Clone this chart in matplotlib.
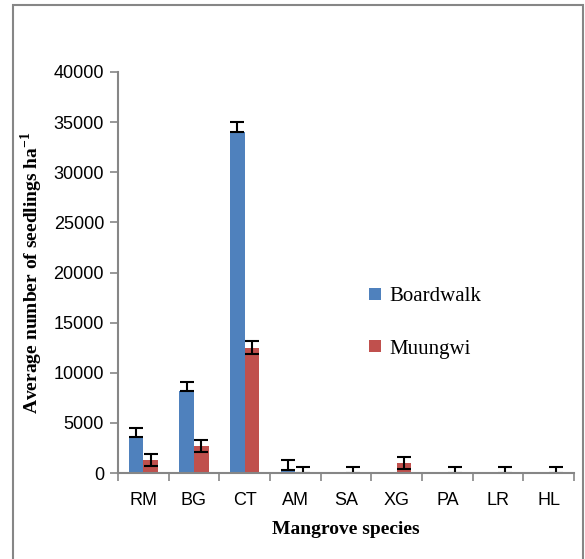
import numpy as np
import matplotlib.pyplot as plt
from matplotlib.patches import Rectangle

# Dados
especies = ['RM', 'BG', 'CT', 'AM', 'SA', 'XG', 'PA', 'LR', 'HL']
boardwalk = [3550, 8200, 34000, 350, 0, 0, 0, 0, 0]
boardwalk_err = [900, 900, 1000, 900, 0, 0, 0, 0, 0]
muungwi = [1300, 2700, 12500, 0, 0, 1000, 0, 0, 0]
muungwi_err = [600, 600, 650, 650, 650, 600, 650, 600, 600]

azul = '#4F81BD'
vermelho = '#C0504D'
cinza = '#868686'

plt.rcParams['mathtext.fontset'] = 'custom'
plt.rcParams['mathtext.bf'] = 'Liberation Serif:bold'
plt.rcParams['mathtext.rm'] = 'Liberation Serif:bold'
plt.rcParams['axes.unicode_minus'] = False

fig = plt.figure(figsize=(5.85, 5.59), dpi=100)
ax = fig.add_axes([0.2017, 0.1538, 0.7795, 0.7174])

x = np.arange(len(especies))
w = 0.29

# Boardwalk: barra de erro so para cima (so onde existe erro)
bw = np.array(boardwalk)
bw_err = np.array(boardwalk_err)
ax.bar(x - w / 2, bw, w, color=azul, label='Boardwalk', zorder=2)
m = bw_err > 0
ax.errorbar((x - w / 2)[m], bw[m], yerr=[np.zeros(m.sum()), bw_err[m]],
            fmt='none', ecolor='black', elinewidth=1.5, capsize=5, capthick=1.5, zorder=3)

mu = np.array(muungwi)
mu_err = np.array(muungwi_err)
ax.bar(x + w / 2, mu, w, color=vermelho, label='Muungwi', zorder=2)
inf = np.minimum(mu, mu_err)
ax.errorbar(x + w / 2, mu, yerr=[inf, mu_err],
            fmt='none', ecolor='black', elinewidth=1.5, capsize=5, capthick=1.5, zorder=3)

ax.set_xlim(-0.5, len(x) - 0.5)
ax.set_ylim(0, 40000)
ax.set_yticks(np.arange(0, 40001, 5000))

ax.set_xticks(x)
ax.set_xticklabels(especies)
ax.set_xticks(np.arange(-0.5, len(x), 1), minor=True)
ax.tick_params(axis='x', which='major', length=0, pad=14)
ax.tick_params(axis='x', which='minor', length=6, width=1.2, color=cinza)
ax.tick_params(axis='y', length=6, width=1.2, color=cinza, pad=4)
for lbl in ax.get_xticklabels() + ax.get_yticklabels():
    lbl.set_fontfamily('Liberation Sans')
    lbl.set_fontsize(13)

for s in ['top', 'right']:
    ax.spines[s].set_visible(False)
for s in ['left', 'bottom']:
    ax.spines[s].set_color(cinza)
    ax.spines[s].set_linewidth(1.5)
    ax.spines[s].set_zorder(4)

ax.set_xlabel('Mangrove species', fontfamily='Liberation Serif', fontweight='bold',
              fontsize=14, labelpad=8)
ax.set_ylabel('Average number of seedlings ha$^{\\mathrm{-1}}$', fontfamily='Liberation Serif',
              fontweight='bold', fontsize=14, labelpad=6)

leg = ax.legend(loc='upper left', bbox_to_anchor=(0.51, 0.51), frameon=False,
                prop={'family': 'Liberation Serif', 'size': 15},
                handlelength=0.55, handleheight=0.55, handletextpad=0.4, labelspacing=1.6)

# moldura externa
fig.patches.append(Rectangle((13 / 585, -0.02), 570 / 585, 1.02 - 5 / 559,
                             transform=fig.transFigure, fill=False,
                             edgecolor=cinza, linewidth=1.5))

plt.savefig('out.png', dpi=100)
